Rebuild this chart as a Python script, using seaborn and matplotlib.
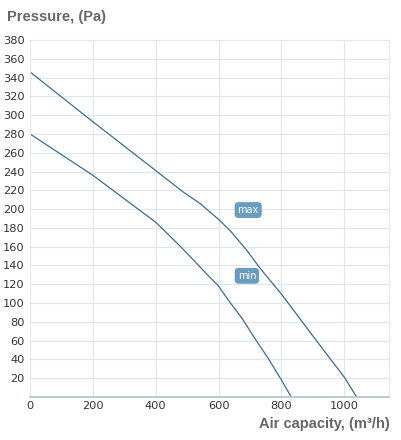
import pandas as pd
import matplotlib
matplotlib.use('Agg')
import matplotlib.pyplot as plt
import seaborn as sns

# curve points
flow_max = [0, 200, 400, 488, 541, 600, 637, 690, 732, 801, 902, 1002, 1039]
pres_max = [346, 293, 241, 218, 206, 189, 177, 156, 137, 109, 64, 20, 0]
flow_min = [0, 200, 400, 446, 488, 525, 562, 600, 631, 674, 716, 758, 800, 831]
pres_min = [280, 236, 186, 171, 157, 144, 131, 118, 103, 84, 62, 41, 18, 0]

curve_labels = ['max', 'min']
label_pos = [(694, 199), (690, 129)]

x_ticks = [0, 200, 400, 600, 800, 1000]
y_ticks = list(range(20, 400, 20))

df = pd.concat([
    pd.DataFrame({'flow': flow_max, 'pressure': pres_max, 'curve': 'max'}),
    pd.DataFrame({'flow': flow_min, 'pressure': pres_min, 'curve': 'min'}),
], ignore_index=True)

sns.set_style('white')
plt.rcParams['font.family'] = ['DejaVu Sans']

fig = plt.figure(figsize=(4.01, 4.4), dpi=100)
ax = fig.add_axes([30 / 401, 43 / 440, 359 / 401, 357 / 440])

line_col = '#3a6d96'
sns.lineplot(data=df, x='flow', y='pressure', units='curve', estimator=None,
             sort=False, color=line_col, linewidth=0.9, ax=ax)

ax.set_xlim(0, 1142)
ax.set_ylim(0, 380)
ax.set_xticks(x_ticks)
ax.set_yticks(y_ticks + [0])
ax.set_yticklabels([str(v) for v in y_ticks] + [''])
ax.grid(True, color='#dfe7ec', linewidth=0.8)
ax.set_axisbelow(True)

for side in ['top', 'right', 'left']:
    ax.spines[side].set_visible(True)
    ax.spines[side].set_color('#e2e8ec')
    ax.spines[side].set_linewidth(0.8)
ax.spines['bottom'].set_color('#b4c0c8')
ax.spines['bottom'].set_linewidth(1.2)

ax.tick_params(axis='y', length=3, width=0.8, color='#999999', labelsize=8.2,
               labelcolor='#333333', pad=1)
ax.tick_params(axis='x', length=3, width=1, color='#7aa8c0', labelsize=8.2,
               labelcolor='#333333', pad=3, direction='in')
ax.set_xlabel('')
ax.set_ylabel('')

for name, (lx, ly) in zip(curve_labels, label_pos):
    ax.text(lx, ly, name, ha='center', va='center', fontsize=7, color='white',
            bbox=dict(boxstyle='round,pad=0.3,rounding_size=0.4',
                      fc='#6a9cc0', ec='none'))

fig.text(7 / 401, 1 - 17 / 440, 'Pressure, (Pa)', ha='left', va='center',
         fontsize=10.5, fontweight='bold', color='#666666',
         family='Liberation Sans')
fig.text(390 / 401, 1 - 424 / 440, 'Air capacity, (m³/h)', ha='right',
         va='center', fontsize=10.5, fontweight='bold', color='#666666',
         family='Liberation Sans')

fig.savefig('out.png', dpi=100)
